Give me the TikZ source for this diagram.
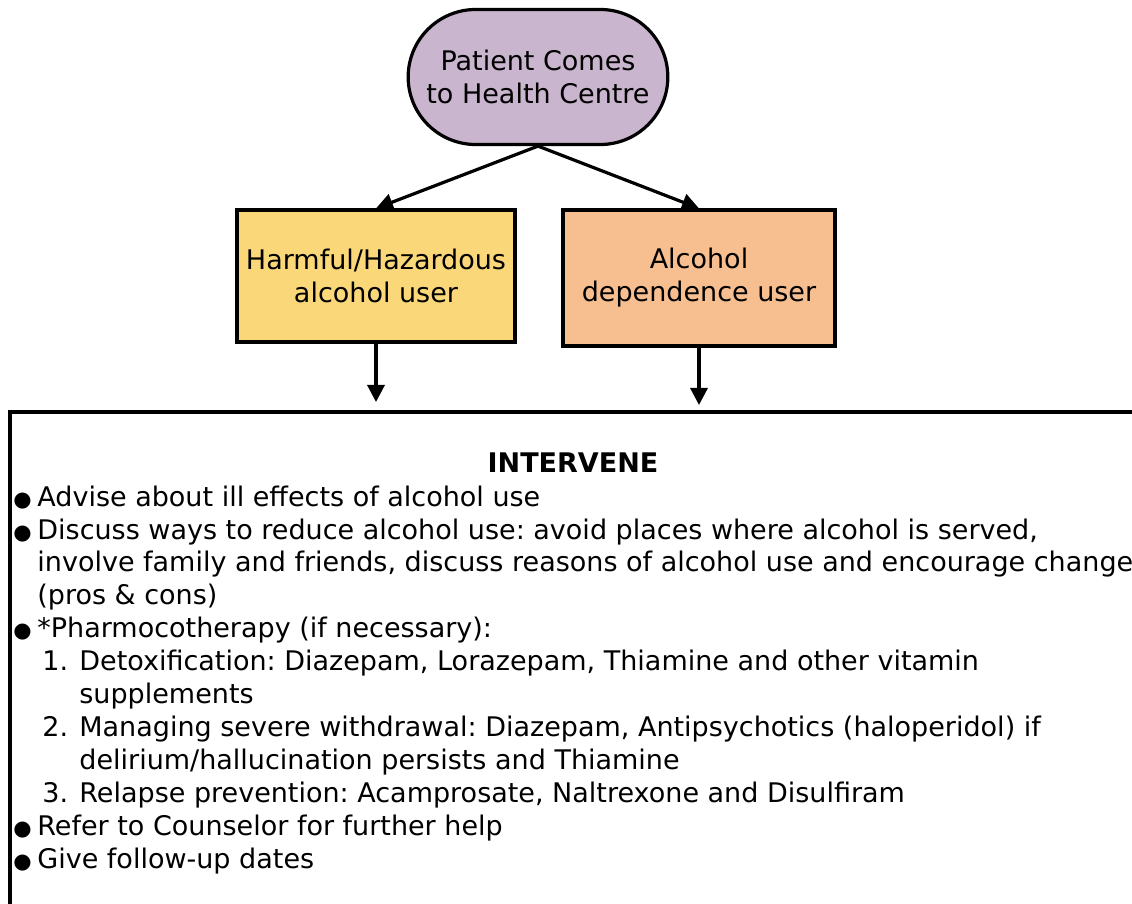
\documentclass[tikz,border=0pt]{standalone}
\usepackage{fontspec}
\setmainfont{DejaVu Sans}
\usetikzlibrary{shapes.misc,arrows.meta}
\definecolor{startfill}{RGB}{201,181,205}
\definecolor{harmfill}{RGB}{250,216,121}
\definecolor{depfill}{RGB}{247,191,143}
\newcommand{\bulitem}{\makebox[12pt][l]{\fontsize{10.5}{10}\selectfont ●}}
\newcommand{\numitem}[1]{\hspace*{14.5pt}\makebox[18.5pt][l]{#1}}
\newcommand{\contline}{\hspace*{33pt}}
\frenchspacing
\begin{document}
\begin{tikzpicture}[x=0.5pt,y=-0.5pt,
        every node/.style={font=\fontsize{13.5}{16.45}\selectfont},
        start/.style={rounded rectangle, draw, line width=1.6pt, fill=startfill, minimum width=136.5pt, minimum height=67.5pt, align=center},
        box/.style={rectangle, draw, line width=1.6pt, align=center},
        line/.style={draw, line width=1.6pt, -{Triangle[length=8.5pt,width=8.5pt]}}
    ]
        \clip (0,0) rectangle (1132,904);

        \node[start] (patient) at (538, 77) {Patient Comes\\to Health Centre};
        \node[box, fill=harmfill, minimum width=139pt, minimum height=66pt] (harm) at (376, 276) {Harmful/Hazardous\\alcohol user};
        \node[box, fill=depfill, minimum width=136pt, minimum height=68pt] (dep) at (699, 278) {Alcohol\\dependence user};

        \coordinate (harmend) at (376, 402);
        \coordinate (depend) at (699, 405);

        \draw[line] (patient.south) -- (harm.north);
        \draw[line] (patient.south) -- (dep.north);
        \draw[line] (harm.south) -- (harmend);
        \draw[line] (dep.south) -- (depend);

        % Intervene panel
        \draw[line width=1.6pt] (10, 412) rectangle (1170, 940);
        \node[font=\fontsize{13.5}{16.45}\selectfont\bfseries] (title) at (573, 463) {INTERVENE};
        \node[anchor=base west, align=left, inner sep=0pt] (steps) at (13, 868) {%
            \bulitem Advise about ill effects of alcohol use\\
            \bulitem Discuss ways to reduce alcohol use: avoid places where alcohol is served,\\
            \hspace*{12pt}involve family and friends, discuss reasons of alcohol use and encourage change\\
            \hspace*{12pt}(pros \& cons)\\
            \bulitem *Pharmocotherapy (if necessary):\\
            \numitem{1.}Detoxification: Diazepam, Lorazepam, Thiamine and other vitamin\\
            \contline supplements\\
            \numitem{2.}Managing severe withdrawal: Diazepam, Antipsychotics (haloperidol) if\\
            \contline delirium/hallucination persists and Thiamine\\
            \numitem{3.}Relapse prevention: Acamprosate, Naltrexone and Disulfiram\\
            \bulitem Refer to Counselor for further help\\
            \bulitem Give follow-up dates};
    \end{tikzpicture}
\end{document}
